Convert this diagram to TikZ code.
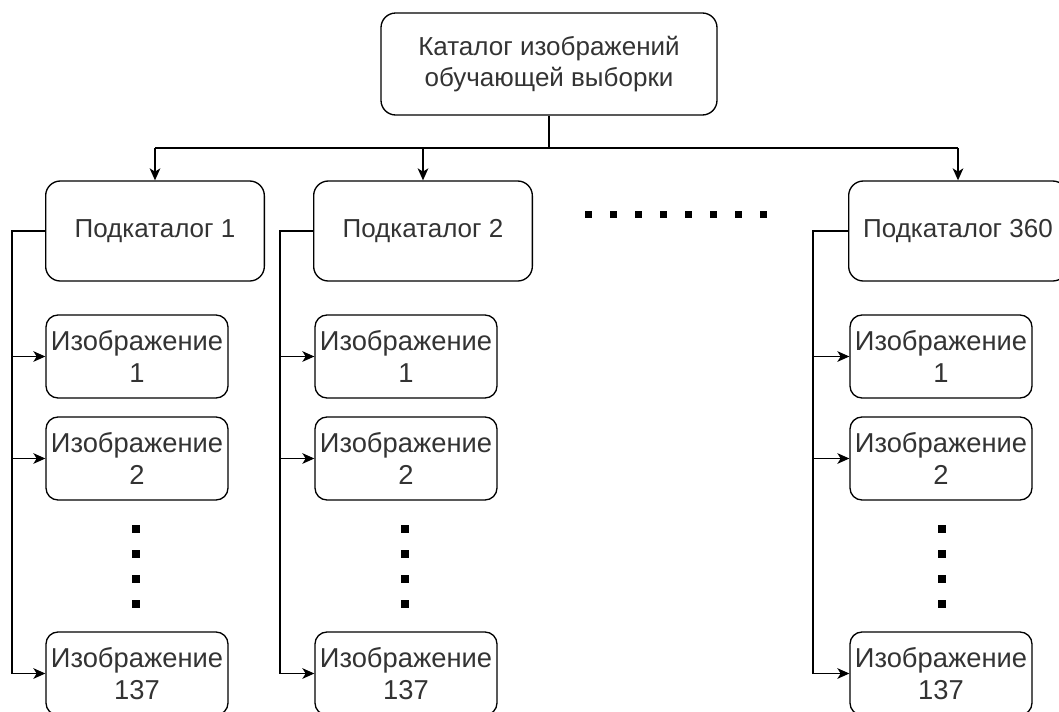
\documentclass[tikz,border=0pt]{standalone}
\usepackage{fontspec}
\setmainfont{Liberation Sans}
\usetikzlibrary{arrows.meta}
\definecolor{txtgray}{HTML}{333333}
\tikzset{
	box/.style={draw, line width=1pt, rounded corners=9pt, align=center, inner sep=0pt, text=txtgray, font=\fontsize{19.5}{23.4}\selectfont},
	catbox/.style={box, rounded corners=11pt, minimum width=164pt, minimum height=75pt},
	imgbox/.style={box, minimum width=136.5pt, minimum height=62.25pt, font=\fontsize{20.5}{23.4}\selectfont},
	arr/.style={line width=1pt, -{Stealth[length=9pt, width=8pt, inset=2.5pt]}}
}

\begin{document}
\begin{tikzpicture}[x=0.75pt, y=-0.75pt]
	\useasboundingbox (0,0) rectangle (1059,711);
	
	%catalog
	\node[catbox, minimum width=252pt, minimum height=76.5pt] (top) at (549,64) {Каталог изображений\\обучающей выборки};
	
	%subcatalogs
	\node[catbox] (sub1) at (155,231) {Подкаталог 1};
	\node[catbox] (sub2) at (423,231) {Подкаталог 2};
	\node[catbox] (sub3) at (958,231) {Подкаталог 360};
	
	%images
	\node[imgbox] (img11) at (137,356.5) {Изображение\\1};
	\node[imgbox] (img12) at (137,458.5) {Изображение\\2};
	\node[imgbox] (img1n) at (137,673.5) {Изображение\\137};
	\node[imgbox] (img21) at (406,356.5) {Изображение\\1};
	\node[imgbox] (img22) at (406,458.5) {Изображение\\2};
	\node[imgbox] (img2n) at (406,673.5) {Изображение\\137};
	\node[imgbox] (img31) at (941,356.5) {Изображение\\1};
	\node[imgbox] (img32) at (941,458.5) {Изображение\\2};
	\node[imgbox] (img3n) at (941,673.5) {Изображение\\137};
	
	%bus
	\coordinate (bus) at (549,148);
	\draw[line width=1pt] (top.south) -- (bus);
	\draw[line width=1pt] (sub1.north |- bus) -- (sub3.north |- bus);
	\draw[arr] (sub1.north |- bus) -- (sub1.north);
	\draw[arr] (sub2.north |- bus) -- (sub2.north);
	\draw[arr] (sub3.north |- bus) -- (sub3.north);
	
	%trunks
	\draw[arr] (sub1.west) -- ++(-33,0) |- (img11.west);
	\draw[arr] (sub1.west) -- ++(-33,0) |- (img12.west);
	\draw[arr] (sub1.west) -- ++(-33,0) |- (img1n.west);
	\draw[arr] (sub2.west) -- ++(-33,0) |- (img21.west);
	\draw[arr] (sub2.west) -- ++(-33,0) |- (img22.west);
	\draw[arr] (sub2.west) -- ++(-33,0) |- (img2n.west);
	\draw[arr] (sub3.west) -- ++(-35,0) |- (img31.west);
	\draw[arr] (sub3.west) -- ++(-35,0) |- (img32.west);
	\draw[arr] (sub3.west) -- ++(-35,0) |- (img3n.west);
	
	%dots
	\foreach \x in {588,613,...,763}
		\fill (\x-3.5,210.5) rectangle ++(7,7);
	\foreach \x in {136,405,942}
		\foreach \y in {529,554,579,604}
			\fill (\x-4,\y-4) rectangle ++(8,8);
\end{tikzpicture}
\end{document}
